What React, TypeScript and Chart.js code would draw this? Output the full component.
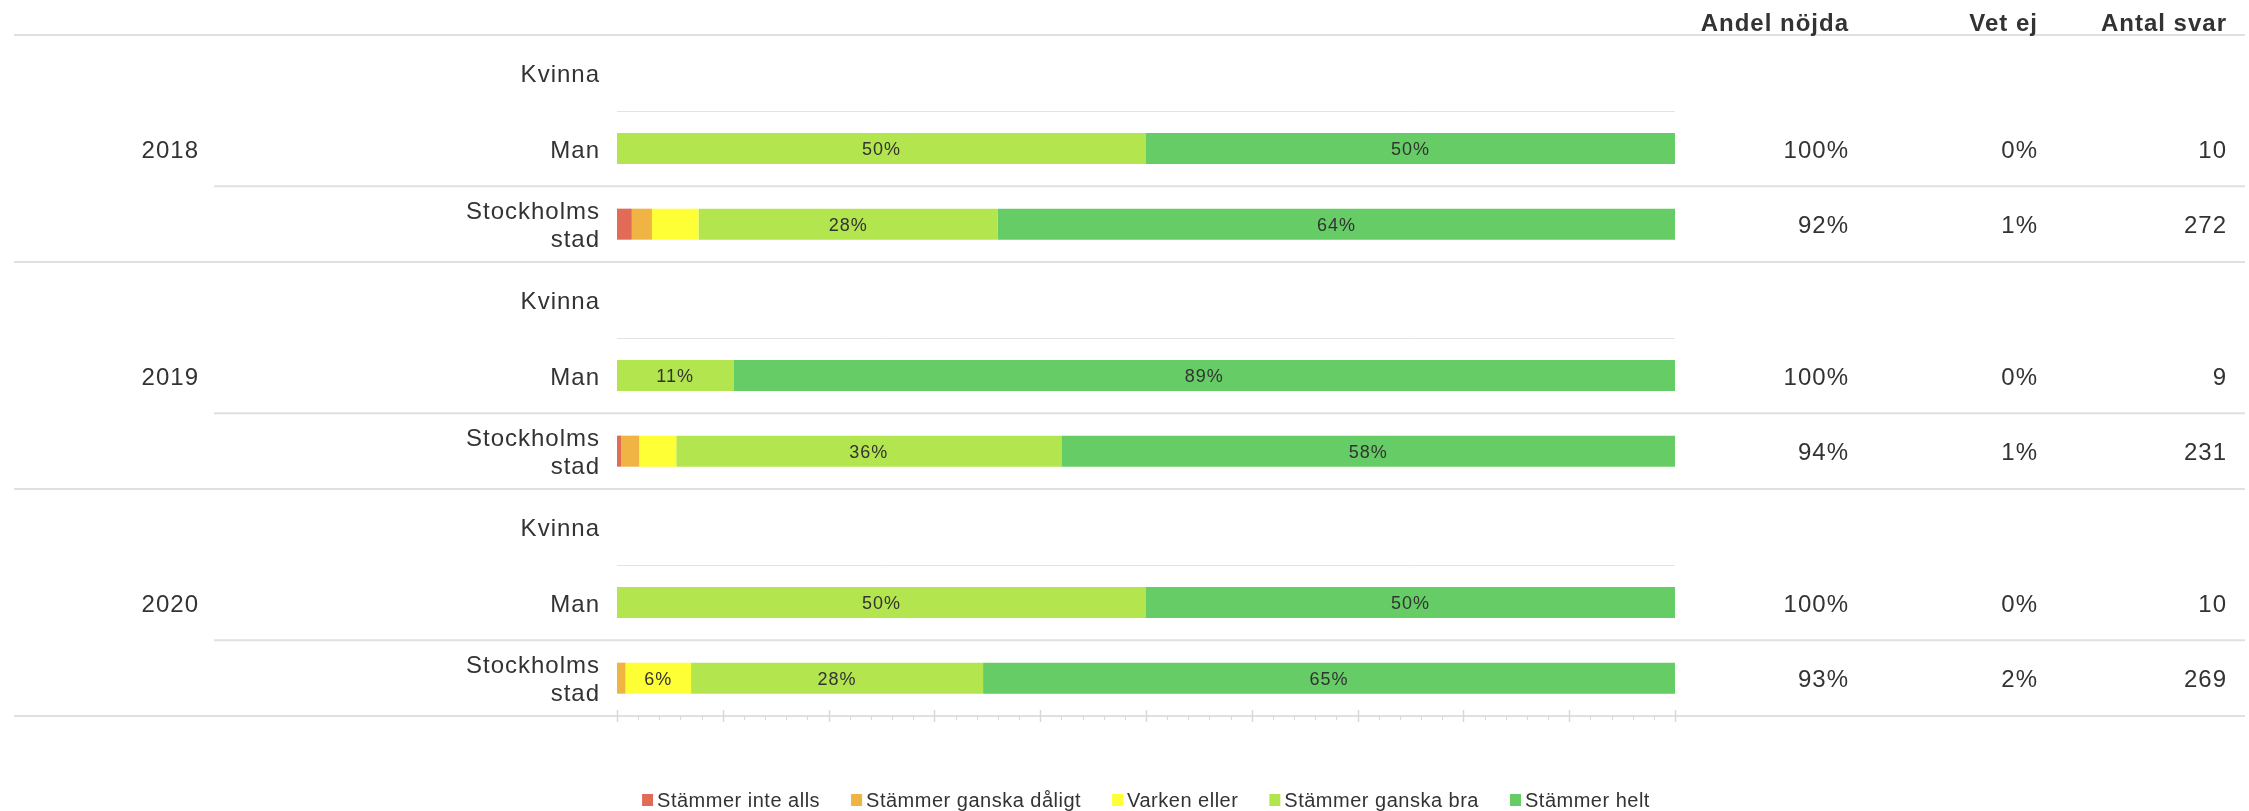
import React, { useEffect, useRef } from 'react';
import { Chart, registerables } from 'chart.js';

Chart.register(...registerables);

// ---------- data ----------
const years = ['2018', '2019', '2020'];
const rowLabels: (string | string[])[] = [
  'Kvinna', 'Man', ['Stockholms', 'stad'],
  'Kvinna', 'Man', ['Stockholms', 'stad'],
  'Kvinna', 'Man', ['Stockholms', 'stad'],
];
const seriesNames = ['Stämmer inte alls', 'Stämmer ganska dåligt', 'Varken eller', 'Stämmer ganska bra', 'Stämmer helt'];
const seriesColors = ['#E06B56', '#EFB443', '#FFFF35', '#B3E64E', '#66CC66'];

const stammerInteAlls = [null, 0, 1.4, null, 0, 0.4, null, 0, 0];
const stammerGanskaDaligt = [null, 0, 1.9, null, 0, 1.7, null, 0, 0.8];
const varkenEller = [null, 0, 4.4, null, 0, 3.5, null, 0, 6.2];
const stammerGanskaBra = [null, 50, 28.3, null, 11, 36.4, null, 50, 27.6];
const stammerHelt = [null, 50, 64.0, null, 89, 58.0, null, 50, 65.4];

const tableHeaders = ['Andel nöjda', 'Vet ej', 'Antal svar'];
const andelNojda = ['', '100%', '92%', '', '100%', '94%', '', '100%', '93%'];
const vetEj = ['', '0%', '1%', '', '0%', '1%', '', '0%', '2%'];
const antalSvar = ['', '10', '272', '', '9', '231', '', '10', '269'];

const seriesValues = [stammerInteAlls, stammerGanskaDaligt, varkenEller, stammerGanskaBra, stammerHelt];

// ---------- style ----------
const FONT = "'Liberation Sans', Arial, sans-serif";
const TEXT = '#333333';
const LINE = '#e0e0e0';
const LINE_LIGHT = '#e3e3e3';
const COL_RIGHT = [1849, 2038, 2227];
const YEAR_RIGHT = 199;
const LINE_LEFT = 14;
const LINE_RIGHT = 2245;
const SUB_LINE_LEFT = 214;
const TEXT_DY = 2.5;

const letterSpacingPlugin = {
  id: 'letterSpacing',
  beforeDraw(chart: any) {
    chart.ctx.letterSpacing = '1px';
  },
};

const gridPlugin = {
  id: 'customGrid',
  beforeDatasetsDraw(chart: any) {
    const { ctx, chartArea, scales } = chart;
    const y = scales.y;
    const x = scales.x;
    const n = rowLabels.length;
    ctx.save();
    for (let i = 0; i <= n; i++) {
      let yb: number;
      if (i === 0) yb = chartArea.top;
      else if (i === n) yb = chartArea.bottom;
      else yb = (y.getPixelForValue(i - 1) + y.getPixelForValue(i)) / 2;
      ctx.beginPath();
      if (i % 3 === 0) {
        ctx.strokeStyle = LINE;
        ctx.lineWidth = 2;
        ctx.moveTo(LINE_LEFT, yb);
        ctx.lineTo(LINE_RIGHT, yb);
      } else if (i % 3 === 2) {
        ctx.strokeStyle = LINE;
        ctx.lineWidth = 2;
        ctx.moveTo(SUB_LINE_LEFT, yb);
        ctx.lineTo(LINE_RIGHT, yb);
      } else {
        ctx.strokeStyle = LINE_LIGHT;
        ctx.lineWidth = 1;
        ctx.moveTo(chartArea.left, Math.round(yb) + 0.5);
        ctx.lineTo(chartArea.right, Math.round(yb) + 0.5);
      }
      ctx.stroke();
    }
    // axis ticks
    const b = chartArea.bottom;
    ctx.strokeStyle = '#d8d8d8';
    for (let v = 0; v <= 100; v += 2) {
      const px = Math.round(x.getPixelForValue(v)) + 0.5;
      ctx.beginPath();
      if (v % 10 === 0) {
        ctx.lineWidth = 1.5;
        ctx.moveTo(px, b - 6);
        ctx.lineTo(px, b + 6);
      } else {
        ctx.lineWidth = 1;
        ctx.moveTo(px, b);
        ctx.lineTo(px, b + 4);
      }
      ctx.stroke();
    }
    ctx.restore();
  },
};

const labelsPlugin = {
  id: 'barLabels',
  afterDatasetsDraw(chart: any) {
    const { ctx } = chart;
    ctx.save();
    ctx.letterSpacing = '1px';
    ctx.font = `18px ${FONT}`;
    ctx.fillStyle = TEXT;
    ctx.textAlign = 'center';
    ctx.textBaseline = 'middle';
    chart.data.datasets.forEach((ds: any, di: number) => {
      const meta = chart.getDatasetMeta(di);
      meta.data.forEach((el: any, idx: number) => {
        const v = ds.data[idx];
        if (v == null || v < 5) return;
        const c = el.getCenterPoint();
        ctx.fillText(`${Math.round(v)}%`, c.x, c.y + 2);
      });
    });
    ctx.restore();
  },
};

const tablePlugin = {
  id: 'sideTable',
  afterDraw(chart: any) {
    const { ctx, chartArea, scales } = chart;
    const y = scales.y;
    ctx.save();
    ctx.letterSpacing = '1px';
    ctx.fillStyle = TEXT;
    ctx.textBaseline = 'middle';
    ctx.textAlign = 'right';
    // headers
    ctx.font = `bold 24px ${FONT}`;
    tableHeaders.forEach((h, i) => ctx.fillText(h, COL_RIGHT[i], 24));
    // values
    ctx.font = `24px ${FONT}`;
    const cols = [andelNojda, vetEj, antalSvar];
    for (let r = 0; r < rowLabels.length; r++) {
      const yc = y.getPixelForValue(r) + TEXT_DY;
      cols.forEach((col, ci) => {
        if (col[r]) ctx.fillText(col[r], COL_RIGHT[ci], yc);
      });
    }
    // year labels
    years.forEach((yr, g) => {
      const yc = y.getPixelForValue(g * 3 + 1) + TEXT_DY;
      ctx.fillText(yr, YEAR_RIGHT, yc);
    });

    // legend, centred on the plot area
    ctx.font = `20px ${FONT}`;
    ctx.letterSpacing = '0.5px';
    ctx.textAlign = 'left';
    const boxW = 11;
    const boxH = 12;
    const gapText = 4;
    const gapItem = 31;
    const widths = seriesNames.map((s) => ctx.measureText(s).width);
    const total = widths.reduce((a, w) => a + boxW + gapText + w, 0) + gapItem * (seriesNames.length - 1);
    let lx = (chartArea.left + chartArea.right) / 2 - total / 2;
    const ly = 800;
    seriesNames.forEach((s, i) => {
      ctx.fillStyle = seriesColors[i];
      ctx.fillRect(lx, ly - 6, boxW, boxH);
      ctx.fillStyle = TEXT;
      ctx.fillText(s, lx + boxW + gapText, ly + 1);
      lx += boxW + gapText + widths[i] + gapItem;
    });
    ctx.restore();
  },
};

export default function App() {
  const ref = useRef<HTMLCanvasElement>(null);
  useEffect(() => {
    document.body.style.margin = '0';
    Chart.defaults.font.family = FONT;
    Chart.defaults.color = TEXT;
    const chart = new Chart(ref.current as HTMLCanvasElement, {
      type: 'bar',
      data: {
        labels: rowLabels,
        datasets: seriesNames.map((name, i) => ({
          label: name,
          data: seriesValues[i],
          backgroundColor: seriesColors[i],
          borderWidth: 0,
          barPercentage: 0.41,
          categoryPercentage: 1,
        })),
      },
      options: {
        indexAxis: 'y',
        responsive: false,
        animation: false,
        devicePixelRatio: 1,
        layout: { padding: { left: 0, right: 574, top: 35, bottom: 95 } },
        plugins: {
          legend: { display: false },
          tooltip: { enabled: false },
        },
        scales: {
          x: {
            stacked: true,
            min: 0,
            max: 100,
            display: false,
          },
          y: {
            stacked: true,
            grid: { display: false, drawTicks: false },
            border: { display: false },
            ticks: {
              font: { size: 24, family: FONT, lineHeight: 1.15 },
              color: TEXT,
              padding: 17,
              autoSkip: false,
              labelOffset: TEXT_DY,
            },
            afterFit: (scale: any) => {
              scale.width = 617;
              scale.paddingTop = 0;
              scale.paddingBottom = 0;
            },
          },
        },
      },
      plugins: [letterSpacingPlugin, gridPlugin, labelsPlugin, tablePlugin],
    } as any);
    return () => chart.destroy();
  }, []);
  return (
    <div style={{ width: 2249, height: 811 }}>
      <canvas ref={ref} width={2249} height={811} style={{ display: 'block' }} />
    </div>
  );
}
